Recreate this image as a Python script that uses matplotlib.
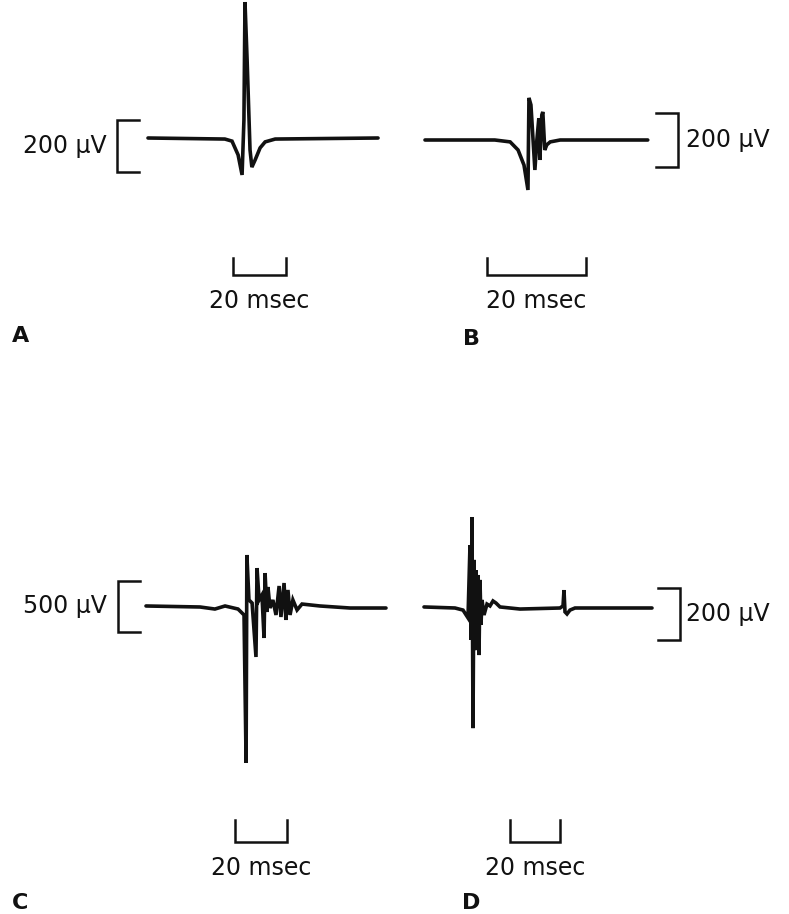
import matplotlib.pyplot as plt

W, H, DPI = 789, 914, 100

# Trace A: single large biphasic spike (time in ms, amplitude in µV)
a_t = [0, 29, 31.7, 34, 35.5, 36.2, 36.6, 37.4, 38.5, 39.2, 40.4, 42.3, 44.2, 48, 86.8]
a_v = [0, -4, -12, -65, -142, 69, 523, 300, -46, -112, -85, -38, -15, -4, 0]

# Trace B: short polyphasic potential
b_t = [0, 14.1, 17.2, 18.8, 20.0, 20.8, 21.0, 21.4, 22.2, 22.6, 23.0, 23.2,
       23.6, 23.8, 24.2, 24.6, 25.3, 27.3, 45]
b_v = [0, 0, -7, -37, -93, -185, 156, 130, -111, 0, 81, -74,
       93, 104, -37, -18, -7, 0, 0]

# Trace C: large spike followed by a burst
c_t = [0, 20.8, 26.5, 30.4, 35.4, 37.7, 38.5, 38.8, 39.6, 40.8, 42.3, 42.7,
       43.5, 44.6, 45.4, 45.8, 46.5, 46.9, 47.7, 48.8, 50.0, 51.2, 51.9, 53.1,
       53.8, 54.6, 55.4, 56.5, 58.1, 60.0, 66.9, 78.5, 92.3]
c_v = [10, 0, -20, 10, -20, -78, -1529, 510, 69, 39, -490, 382,
       69, 118, -304, 333, -49, 196, -10, 69, -78, 206, -98, 235,
       -127, 167, -78, 69, -29, 29, 10, -10, -10]

# Trace D: dense burst then a late small spike
d_t = [0, 12.4, 15.6, 17.6, 18.4, 18.8, 19.2, 19.6, 20.0, 20.4, 20.8, 21.2,
       21.6, 22.0, 22.4, 22.8, 23.2, 24, 25.2, 26.4, 27.6, 28.8, 30.4, 38.4,
       54.4, 55.6, 56, 56.4, 57.2, 58.4, 60.4, 91.2]
d_v = [4, 0, -8, -38, 242, -123, 350, -462, 185, -162, 146, -142,
       127, -181, 108, -65, 31, -27, 15, 8, 27, 19, 4, -4,
       0, 8, 69, -15, -23, -8, 0, 0]

amp_scales = [200, 200, 500, 200]     # µV
time_scales = [20, 20, 20, 20]        # ms
amp_labels = ["200 μV", "200 μV", "500 μV", "200 μV"]
time_labels = ["20 msec"] * 4
panel_letters = ["A", "B", "C", "D"]

traces = [(a_t, a_v), (b_t, b_v), (c_t, c_v), (d_t, d_v)]

# pixel origin of each trace and its gain
panels = [
    dict(x0=148, y0=138, ms=2.65, uv=0.26),
    dict(x0=425, y0=140, ms=4.95, uv=0.27),
    dict(x0=146, y0=607, ms=2.60, uv=0.102),
    dict(x0=424, y0=608, ms=2.50, uv=0.26),
]

# bracket: side, x of the spine, y of the lower end (pixels)
amp_bars = [("left", 117, 172), ("right", 678, 167),
            ("left", 118, 632), ("right", 680, 640)]
# time bar: x of left end, y of the bar, tick height, text baseline
time_bars = [(233, 275, 17, 308), (487, 275, 17, 308),
             (235, 842, 22, 875), (510, 842, 22, 875)]
letter_pos = [(12, 342), (463, 345), (12, 909), (462, 909)]

INK = "#111111"
FONT = "DejaVu Sans"
FS = 17


def panel_axes(fig, p):
    ax = fig.add_axes([0, 0, 1, 1])
    ax.set_xlim(-p["x0"] / p["ms"], (W - p["x0"]) / p["ms"])
    ax.set_ylim((p["y0"] - H) / p["uv"], p["y0"] / p["uv"])
    ax.axis("off")
    return ax


def to_data(p, x, y):
    return (x - p["x0"]) / p["ms"], (p["y0"] - y) / p["uv"]


def fig_text(fig, x, y, s, **kw):
    fig.text(x / W, 1 - y / H, s, **kw)


fig = plt.figure(figsize=(W / DPI, H / DPI), dpi=DPI)

for i, p in enumerate(panels):
    ax = panel_axes(fig, p)
    t, v = traces[i]
    ax.plot(t, v, color=INK, lw=2.6, solid_joinstyle="miter",
            solid_capstyle="round")

    # amplitude bracket
    side, bx, by = amp_bars[i]
    tx, vy = to_data(p, bx, by)
    tick = 22 / p["ms"] * (1 if side == "left" else -1)
    vtop = vy + amp_scales[i]
    ax.plot([tx + tick, tx, tx, tx + tick], [vtop, vtop, vy, vy],
            color=INK, lw=1.8, solid_joinstyle="miter")
    ymid = by - amp_scales[i] * p["uv"] / 2
    if side == "left":
        fig_text(fig, 107, ymid, amp_labels[i], ha="right", va="center",
                 fontsize=FS, family=FONT, color=INK)
    else:
        fig_text(fig, 686, ymid, amp_labels[i], ha="left", va="center",
                 fontsize=FS, family=FONT, color=INK)

    # time bar
    lx, ly, th, base = time_bars[i]
    t0, vb = to_data(p, lx, ly)
    vt = vb + th / p["uv"]
    t1 = t0 + time_scales[i]
    ax.plot([t0, t0, t1, t1], [vt, vb, vb, vt], color=INK, lw=1.8,
            solid_joinstyle="miter")
    xmid = lx + time_scales[i] * p["ms"] / 2
    fig_text(fig, xmid, base, time_labels[i], ha="center", va="baseline",
             fontsize=FS, family=FONT, color=INK)

    # panel letter
    lx, ly = letter_pos[i]
    fig_text(fig, lx, ly, panel_letters[i], ha="left", va="baseline",
             fontsize=16, fontweight="bold", family=FONT, color=INK)

fig.savefig("out.png", dpi=DPI)
plt.close(fig)
